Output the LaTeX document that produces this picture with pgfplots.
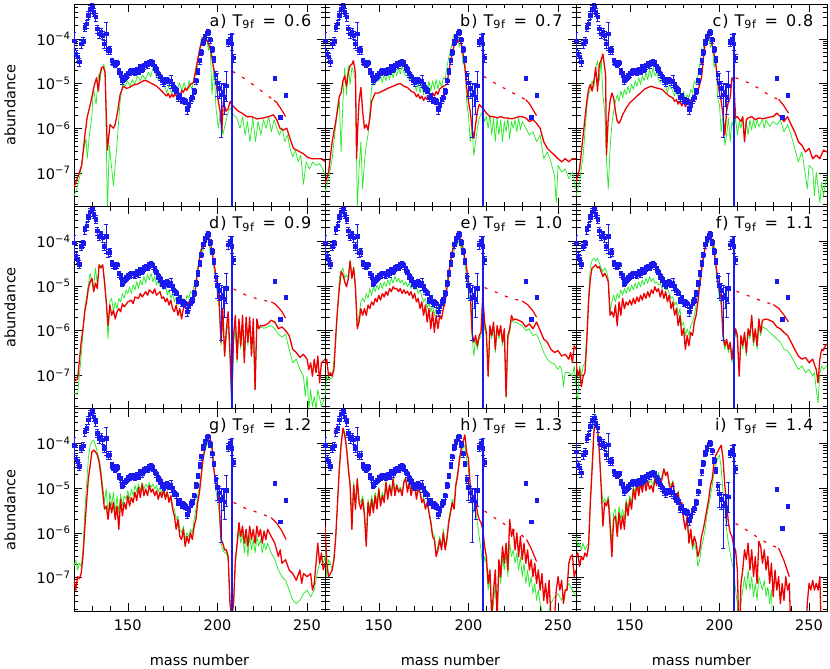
\documentclass[border=0pt]{standalone}
\usepackage{fontspec}
\setmainfont{DejaVu Sans}
\newfontfamily\lblfont{DejaVu Sans}[LetterSpace=6]
\usepackage{pgfplots}
\usepackage{pgfplotstable}
\pgfplotsset{compat=1.18}
\definecolor{rd}{RGB}{238,0,0}
\definecolor{gr}{RGB}{40,235,40}
\definecolor{bl}{RGB}{25,25,240}

% solar r-process abundances: A, log10(abundance), relative errors (+,-)
\pgfplotstableread[row sep=\\]{A L ep em\\
120 -4.04 0.5 0.35\\121 -4.34 0.2 0.2\\122 -4.40 0.2 0.2\\123 -4.51 0.2 0.2\\124 -4.11 0.2 0.2\\125 -4.05 0.2 0.2\\
126 -3.74 0.2 0.2\\127 -3.66 0.2 0.2\\128 -3.47 0.2 0.2\\129 -3.34 0.2 0.2\\130 -3.28 0.2 0.2\\131 -3.40 0.2 0.2\\
132 -3.51 0.2 0.2\\133 -3.77 0.2 0.2\\134 -3.89 0.2 0.2\\135 -3.85 0.2 0.2\\136 -3.92 0.2 0.2\\137 -4.11 0.2 0.2\\
138 -3.89 0.82 0.58\\139 -4.26 0.2 0.2\\140 -4.25 0.2 0.2\\141 -4.49 0.15 0.15\\142 -4.53 0.15 0.15\\143 -4.57 0.15 0.15\\
144 -4.53 0.15 0.15\\145 -4.73 0.15 0.15\\146 -4.79 0.15 0.15\\147 -4.94 0.15 0.15\\148 -4.88 0.15 0.15\\149 -4.83 0.15 0.15\\
150 -4.78 0.15 0.15\\151 -4.75 0.15 0.15\\152 -4.73 0.15 0.15\\153 -4.73 0.15 0.15\\154 -4.75 0.15 0.15\\155 -4.70 0.15 0.15\\
156 -4.73 0.15 0.15\\157 -4.64 0.15 0.15\\158 -4.68 0.15 0.15\\159 -4.60 0.15 0.15\\160 -4.57 0.15 0.15\\161 -4.58 0.15 0.15\\
162 -4.53 0.15 0.15\\163 -4.51 0.15 0.15\\164 -4.55 0.15 0.15\\165 -4.63 0.15 0.15\\166 -4.68 0.15 0.15\\167 -4.78 0.15 0.15\\
168 -4.85 0.15 0.15\\169 -4.94 0.15 0.15\\170 -4.98 0.15 0.15\\171 -4.93 0.15 0.15\\172 -4.91 0.15 0.15\\173 -4.96 0.15 0.15\\
174 -4.94 0.3 0.3\\175 -5.03 0.15 0.15\\176 -5.11 0.15 0.15\\177 -5.15 0.15 0.15\\178 -5.32 0.15 0.15\\179 -5.28 0.15 0.15\\
180 -5.38 0.15 0.15\\181 -5.36 0.15 0.15\\182 -5.40 0.15 0.15\\183 -5.58 0.2 0.2\\184 -5.47 0.15 0.15\\185 -5.36 0.15 0.15\\
186 -5.32 0.15 0.15\\187 -5.17 0.15 0.15\\188 -4.94 0.15 0.15\\189 -4.72 0.15 0.15\\190 -4.49 0.15 0.15\\191 -4.30 0.15 0.15\\
192 -4.08 0.15 0.15\\193 -3.96 0.15 0.15\\194 -3.89 0.15 0.15\\195 -3.85 0.15 0.15\\196 -4.02 0.15 0.15\\197 -4.23 0.15 0.15\\
198 -4.45 0.15 0.15\\199 -4.80 0.2 0.2\\200 -4.98 0.6 0.5\\201 -5.10 0.4 0.4\\202 -5.25 0.8 0.89\\203 -5.20 0.5 0.5\\
204 -5.30 1.0 0.6\\205 -5.05 1.14 0.55\\206 -4.08 0.2 0.2\\207 -4.00 0.25 0.25\\208 -4.11 0.66 0.3\\209 -4.42 0.2 0.2\\
232 -4.89 0.1 0.1\\235 -5.75 0.1 0.1\\238 -5.26 0.1 0.1\\
}\tabBl
% Pb-208 point with its full error bar
\pgfplotstableread[row sep=\\]{A L ep em\\ 208 -4.11 0.66 0.99995\\}\tabPb

% ---------- panel a ----------
\pgfplotstableread[row sep=\\]{A L\\
120 -7.32\\122.4 -7.06\\124.3 -6.83\\126.1 -6.15\\127.4 -5.74\\128.6 -5.55\\129.9 -5.32\\131.2 -5.06\\132.6 -4.87\\133.6 -5.17\\
134.5 -4.79\\135.4 -4.64\\136.4 -4.63\\137.3 -4.75\\138.6 -6.49\\140.1 -5.92\\142 -6.0\\142.9 -5.92\\144.2 -5.66\\145.7 -5.25\\
147.5 -5.06\\149.4 -5.11\\151.3 -5.08\\153.2 -5.03\\155 -5.02\\156.9 -4.98\\158.7 -4.94\\160.6 -4.94\\162.4 -4.98\\164.3 -5.02\\
166.1 -5.06\\168 -5.13\\169.9 -5.21\\171.7 -5.28\\172.6 -5.22\\173.6 -5.32\\174.5 -5.24\\175.4 -5.30\\176.4 -5.22\\177.3 -5.30\\
178.2 -5.20\\179.2 -5.27\\180.1 -5.15\\181 -5.20\\182 -5.10\\182.9 -5.15\\184.8 -5.02\\186.6 -4.98\\188.5 -4.57\\190 -4.26\\
191.3 -4.04\\192.6 -3.92\\193.7 -4.0\\195 -4.11\\196.3 -4.26\\197.8 -4.64\\199.2 -4.94\\200.5 -5.40\\201.5 -5.62\\202.4 -6.08\\
203.3 -5.40\\204.8 -5.62\\206.1 -5.55\\207.1 -5.40\\208 -5.47\\209.8 -5.55\\211.7 -5.62\\213.6 -5.66\\216.4 -5.74\\219.1 -5.74\\
222 -5.79\\225.7 -5.77\\228.4 -5.74\\231.2 -5.70\\233.1 -5.81\\234.9 -6.0\\236.8 -6.04\\238.7 -6.0\\240.5 -6.23\\242.4 -6.45\\
244.3 -6.49\\246.1 -6.53\\248 -6.57\\249.9 -6.64\\252.6 -6.68\\255.4 -6.68\\258.2 -6.68\\260 -6.75\\
}\tabRa
\pgfplotstableread[row sep=\\]{A L\\
120 -7.51\\121.5 -7.36\\123.3 -7.06\\125.2 -6.53\\126.7 -6.23\\127.4 -6.68\\128.6 -6.15\\129.9 -5.77\\130.8 -5.09\\132.3 -5.47\\
133.8 -4.79\\134.5 -4.94\\135.4 -4.68\\136.7 -4.57\\137.5 -4.75\\138.6 -7.9\\139.7 -6.38\\142 -7.28\\143.8 -6.45\\145.7 -5.40\\
147.2 -4.98\\148.5 -5.06\\149.8 -4.94\\151.3 -5.06\\152.5 -4.91\\153.9 -5.02\\155.3 -4.83\\156.9 -4.94\\158.3 -4.81\\159.8 -4.91\\
161.5 -4.75\\162.8 -4.85\\164.3 -4.60\\165.8 -4.83\\167.2 -4.91\\168.7 -4.94\\170.2 -5.02\\171.7 -5.21\\173.2 -5.02\\174.5 -5.25\\
175.8 -4.98\\177.3 -5.21\\178.8 -4.98\\180.1 -5.17\\181.4 -4.98\\182.9 -5.17\\184.2 -4.94\\185.7 -5.13\\187 -4.87\\188.5 -4.72\\
190 -4.23\\191.3 -3.96\\192.6 -4.08\\193.7 -3.92\\195 -4.26\\195.9 -4.11\\197 -5.25\\198.1 -4.64\\199.2 -5.55\\200.5 -6.0\\
201.8 -5.62\\203 -6.15\\204.3 -5.92\\206.1 -5.62\\207.4 -5.55\\208.9 -5.70\\210.8 -5.77\\212.6 -6.0\\214.1 -5.74\\215.4 -6.15\\
216.7 -5.85\\218.2 -6.30\\219.7 -5.77\\221.2 -6.30\\222.7 -5.85\\224.2 -6.15\\225.7 -5.81\\227.1 -6.0\\228.6 -5.74\\230.1 -6.08\\
231.6 -5.81\\233.1 -6.0\\234.6 -6.15\\236.1 -6.0\\237.6 -6.30\\239.1 -6.15\\240.5 -6.45\\242 -6.64\\243.5 -6.49\\245 -6.75\\
246.5 -6.60\\248 -7.25\\249.5 -6.75\\251.3 -6.91\\253.2 -6.75\\255 -6.83\\256.9 -6.79\\258.8 -6.91\\260 -7.06\\
}\tabGa

% ---------- panel b ----------
\pgfplotstableread[row sep=\\]{A L\\
120 -7.25\\122 -6.98\\124 -6.30\\126 -5.85\\128 -5.28\\129 -5.21\\130 -4.94\\131 -4.83\\132 -5.06\\133 -4.75\\134 -4.60\\
135 -4.57\\135.8 -4.49\\136.5 -4.64\\137 -4.79\\137.6 -6.68\\138.5 -5.77\\139 -5.40\\140 -5.09\\141 -5.62\\142 -6.0\\143 -5.92\\
144 -6.04\\145 -5.77\\146 -5.40\\148 -5.21\\150 -5.21\\152 -5.17\\154 -5.13\\156 -5.09\\158 -5.06\\160 -5.02\\162 -5.0\\
164 -5.06\\166 -5.09\\168 -5.17\\170 -5.21\\171 -5.30\\172 -5.24\\173 -5.34\\174 -5.28\\175 -5.38\\176 -5.30\\177 -5.36\\
178 -5.26\\179 -5.32\\180 -5.21\\181 -5.28\\182 -5.18\\183 -5.24\\184 -5.12\\186 -5.06\\188 -5.02\\190 -4.49\\192 -4.15\\
193 -4.04\\194 -4.08\\195 -4.0\\196 -4.11\\197 -4.34\\198 -4.64\\199 -5.09\\200 -5.40\\201 -5.62\\202 -6.0\\203 -6.23\\
204 -5.92\\205 -5.62\\206 -5.47\\208 -5.55\\210 -5.66\\212 -5.74\\214 -5.74\\216 -5.77\\218 -5.74\\220 -5.77\\222 -5.77\\
224 -5.79\\226 -5.77\\228 -5.74\\230 -5.74\\232 -5.77\\234 -5.85\\236 -5.81\\238 -5.89\\240 -6.0\\242 -6.30\\244 -6.45\\
246 -6.53\\248 -6.60\\250 -6.68\\252 -6.75\\254 -6.68\\256 -6.75\\258 -6.68\\260 -6.68\\
}\tabRb
\pgfplotstableread[row sep=\\]{A L\\
120 -7.43\\122 -7.13\\124 -6.68\\126 -5.92\\127 -5.62\\128 -5.40\\129 -6.53\\130 -5.40\\131 -4.64\\132 -5.25\\133 -4.60\\
134 -5.02\\135 -4.64\\136 -4.75\\137 -4.94\\138 -7.77\\139 -6.91\\140 -6.30\\141 -7.36\\142 -6.75\\143 -6.38\\144 -6.15\\
145 -5.62\\146 -5.09\\147 -4.94\\148 -5.02\\149 -4.87\\150 -4.94\\151 -4.83\\152 -4.98\\153 -4.79\\154 -4.94\\155 -4.75\\
156 -4.91\\157 -4.72\\158 -4.87\\159 -4.68\\160 -4.83\\161 -4.64\\162 -4.79\\163 -4.60\\164 -4.75\\165 -4.83\\166 -4.79\\
167 -4.94\\168 -4.87\\170 -5.02\\171 -5.17\\172 -4.98\\173 -5.21\\174 -5.02\\175 -5.25\\176 -4.98\\177 -5.17\\178 -4.94\\
179 -5.17\\180 -4.94\\181 -5.13\\182 -4.91\\183 -5.13\\184 -4.94\\185 -5.09\\186 -4.87\\187 -4.91\\188 -4.64\\189 -4.42\\
190 -4.26\\191 -4.08\\192 -3.89\\193 -4.11\\194 -3.96\\195 -4.19\\196 -4.04\\197 -4.57\\198 -4.42\\199 -5.40\\200 -5.70\\
201 -6.30\\202 -6.0\\203 -6.60\\204 -6.30\\205 -6.0\\206 -5.77\\207 -5.70\\208 -5.62\\209 -5.85\\210 -5.74\\211 -6.0\\
212 -5.70\\213 -6.15\\214 -5.77\\215 -6.30\\216 -5.77\\217 -6.15\\218 -5.81\\219 -6.30\\220 -5.85\\221 -6.08\\222 -5.77\\
223 -6.23\\224 -5.85\\225 -6.0\\226 -5.81\\227 -6.08\\228 -5.77\\229 -6.04\\230 -5.85\\232 -6.0\\234 -6.15\\236 -6.08\\
238 -6.30\\240 -6.15\\242 -6.68\\244 -6.53\\246 -6.75\\248 -7.06\\249 -7.66\\250 -6.83\\252 -6.98\\254 -6.91\\256 -7.13\\
258 -6.98\\260 -7.36\\
}\tabGb

% ---------- panel c ----------
\pgfplotstableread[row sep=\\]{A L\\
120 -7.21\\122 -6.91\\124 -6.15\\126 -5.40\\127 -5.13\\128 -5.02\\129 -5.17\\130 -4.94\\131 -4.64\\132 -5.17\\133 -4.57\\
134 -4.49\\135 -4.34\\136 -4.64\\136.5 -4.80\\137 -6.60\\138 -5.77\\139 -5.40\\140 -5.21\\141 -5.32\\142 -5.62\\143 -5.85\\
144 -5.89\\145 -5.81\\146 -5.70\\148 -5.55\\150 -5.43\\152 -5.36\\154 -5.28\\156 -5.21\\158 -5.13\\160 -5.09\\162 -5.06\\
164 -5.09\\166 -5.11\\168 -5.13\\170 -5.21\\172 -5.28\\174 -5.32\\175 -5.40\\176 -5.36\\177 -5.46\\178 -5.40\\179 -5.50\\
180 -5.40\\181 -5.52\\182 -5.44\\183 -5.48\\184 -5.38\\185 -5.30\\186 -5.25\\188 -5.17\\190 -4.87\\191 -4.45\\192 -4.11\\
193 -4.0\\194 -3.92\\195 -4.0\\196 -4.15\\197 -4.34\\198 -4.57\\199 -4.94\\200 -5.21\\201 -5.40\\202 -5.70\\203 -6.15\\
204 -5.62\\205 -5.40\\206 -5.32\\207 -4.87\\208 -4.94\\209 -5.77\\210 -5.74\\212 -5.85\\213 -5.74\\214 -6.30\\215 -5.81\\
216 -5.77\\218 -5.74\\220 -5.81\\222 -5.77\\224 -5.79\\226 -5.77\\228 -5.75\\230 -5.74\\232 -5.66\\234 -5.74\\236 -5.85\\
238 -5.74\\240 -5.92\\242 -6.08\\244 -6.30\\246 -6.38\\248 -6.53\\250 -6.45\\252 -6.68\\254 -6.60\\256 -6.68\\258 -6.49\\
260 -6.53\\
}\tabRc
\pgfplotstableread[row sep=\\]{A L\\
120 -7.51\\122 -7.21\\124 -6.60\\126 -5.55\\127 -5.25\\128 -5.13\\129 -4.94\\130 -5.09\\131 -4.64\\132 -4.49\\133 -4.94\\
134 -4.42\\135 -5.25\\136 -5.62\\137 -6.68\\138 -7.36\\139 -6.45\\140 -5.92\\141 -5.62\\142 -5.40\\143 -5.25\\144 -5.40\\
145 -5.17\\146 -5.32\\147 -5.13\\148 -5.25\\149 -5.06\\150 -5.21\\151 -5.02\\152 -5.13\\153 -4.94\\154 -5.06\\155 -4.87\\
156 -5.02\\157 -4.83\\158 -4.94\\159 -4.75\\160 -4.91\\161 -4.68\\162 -4.87\\163 -4.64\\164 -4.83\\165 -4.75\\166 -4.91\\
167 -4.98\\168 -4.87\\170 -5.06\\171 -5.21\\172 -5.02\\174 -5.17\\175 -5.28\\176 -5.09\\177 -5.32\\178 -5.13\\179 -5.36\\
180 -5.17\\181 -5.40\\182 -5.25\\183 -5.32\\184 -5.13\\185 -5.21\\186 -4.94\\187 -5.02\\188 -4.83\\189 -4.57\\190 -4.34\\
191 -4.19\\192 -4.0\\193 -4.11\\194 -3.96\\195 -4.19\\196 -4.11\\197 -4.64\\198 -4.49\\199 -5.32\\200 -5.47\\201 -6.08\\
202 -5.70\\203 -6.38\\204 -6.15\\205 -5.77\\206 -6.30\\207 -5.85\\208 -6.0\\209 -5.77\\210 -6.15\\211 -5.85\\212 -6.0\\
213 -5.77\\214 -6.30\\215 -5.85\\216 -6.15\\217 -5.81\\218 -6.04\\219 -5.81\\220 -6.0\\221 -5.81\\222 -5.96\\224 -5.81\\
225 -6.0\\226 -5.81\\228 -5.96\\230 -5.85\\232 -5.92\\234 -5.81\\236 -6.08\\238 -5.92\\240 -6.15\\242 -6.45\\244 -6.75\\
246 -6.53\\248 -7.06\\249 -7.36\\250 -6.83\\252 -6.91\\253 -7.51\\254 -6.98\\256 -7.66\\257 -7.21\\258 -7.51\\260 -7.06\\
}\tabGc

% ---------- panel d ----------
\pgfplotstableread[row sep=\\]{A L\\
120 -7.13\\122 -7.09\\124 -6.26\\125 -5.96\\126 -5.58\\127 -5.36\\128 -5.06\\129 -4.91\\130 -4.83\\131 -5.13\\132 -4.94\\
133 -5.06\\134 -4.53\\135 -4.60\\136 -4.53\\137 -4.91\\138 -5.36\\139 -5.89\\140 -5.43\\141 -5.66\\142 -5.55\\143 -5.74\\
144 -5.58\\145 -5.51\\146 -5.58\\147 -5.40\\148 -5.47\\150 -5.36\\152 -5.32\\153 -5.40\\154 -5.25\\156 -5.28\\157 -5.17\\
158 -5.25\\160 -5.13\\161 -5.21\\162 -5.09\\164 -5.17\\165 -5.07\\166 -5.21\\168 -5.13\\169 -5.28\\170 -5.25\\171 -5.36\\
172 -5.28\\173 -5.43\\174 -5.32\\175 -5.51\\176 -5.58\\177 -5.43\\178 -5.66\\179 -5.51\\180 -5.74\\181 -5.51\\182 -5.43\\
183 -5.55\\184 -5.36\\185 -5.43\\186 -5.25\\187 -5.28\\188 -4.98\\189 -4.68\\190 -4.38\\191 -4.19\\192 -4.08\\193 -3.96\\
194 -3.85\\195 -3.89\\196 -4.04\\197 -4.23\\198 -4.49\\199 -4.72\\200 -5.06\\201 -5.36\\202 -6.26\\203 -5.51\\204 -6.57\\
205 -5.96\\206 -5.58\\207 -6.49\\208 -7.62\\209 -6.11\\210 -5.66\\211 -6.64\\212 -5.74\\213 -6.34\\214 -5.66\\215 -6.72\\
216 -5.70\\217 -6.26\\218 -5.70\\219 -6.57\\220 -5.74\\221 -7.32\\222 -5.74\\223 -5.96\\224 -5.89\\226 -5.89\\228 -5.85\\
230 -5.77\\232 -5.81\\234 -5.96\\236 -5.92\\238 -6.0\\240 -6.11\\242 -6.42\\244 -6.49\\246 -6.60\\248 -6.53\\250 -6.64\\
251 -6.87\\252 -6.72\\253 -7.02\\254 -6.64\\255 -6.94\\256 -6.57\\257 -7.17\\258 -6.72\\260 -6.64\\
}\tabRd
\pgfplotstableread[row sep=\\]{A L\\
120 -7.40\\122 -7.43\\124 -6.57\\126 -5.51\\128 -4.98\\129 -4.72\\130 -4.91\\131 -5.02\\132 -4.60\\133 -4.98\\134 -4.53\\
135 -4.57\\136 -4.53\\137 -4.83\\138 -5.36\\139 -6.19\\140 -5.36\\141 -5.28\\142 -5.58\\143 -5.36\\144 -5.51\\145 -5.28\\
146 -5.36\\147 -5.17\\148 -5.28\\149 -5.09\\150 -5.17\\151 -5.02\\152 -5.17\\153 -4.98\\154 -5.09\\155 -4.91\\156 -5.06\\
157 -4.87\\158 -4.98\\159 -4.79\\160 -4.94\\161 -4.75\\162 -4.87\\163 -4.72\\164 -4.91\\165 -4.79\\166 -4.98\\167 -4.87\\
168 -5.02\\169 -4.91\\170 -5.09\\171 -4.98\\172 -5.21\\173 -5.09\\174 -5.28\\175 -5.17\\176 -5.36\\177 -5.25\\178 -5.43\\
179 -5.32\\180 -5.43\\181 -5.28\\182 -5.40\\183 -5.21\\184 -5.28\\185 -5.13\\186 -5.17\\187 -4.98\\188 -4.87\\189 -4.60\\
190 -4.38\\191 -4.15\\192 -4.23\\193 -3.92\\194 -4.0\\195 -3.85\\196 -4.30\\197 -4.15\\198 -4.60\\199 -4.83\\200 -5.21\\
201 -5.51\\202 -6.34\\203 -5.74\\204 -6.57\\205 -6.11\\206 -5.81\\207 -6.64\\208 -7.70\\209 -6.26\\210 -5.96\\211 -6.72\\
212 -5.89\\213 -6.42\\214 -5.81\\215 -6.72\\216 -5.81\\217 -6.34\\218 -5.81\\219 -6.57\\220 -5.85\\221 -7.32\\222 -5.85\\
223 -5.96\\224 -5.92\\226 -5.95\\228 -5.92\\230 -5.89\\232 -5.96\\234 -6.08\\236 -6.15\\238 -6.08\\240 -6.42\\242 -6.72\\
244 -6.64\\246 -6.87\\248 -7.02\\249 -7.47\\250 -7.02\\251 -7.77\\252 -7.32\\253 -7.70\\254 -7.47\\255 -7.77\\256 -7.32\\
258 -7.70\\260 -7.47\\
}\tabGd

% ---------- panel e ----------
\pgfplotstableread[row sep=\\]{A L\\
120 -6.79\\121 -6.64\\122 -7.02\\123 -6.94\\124 -7.02\\125 -6.87\\126 -6.11\\127 -5.51\\128 -5.06\\129 -4.68\\130 -4.75\\
131 -4.91\\132 -5.02\\133 -4.83\\134 -4.45\\135 -4.83\\136 -4.60\\137 -5.06\\138 -5.96\\139 -5.81\\140 -5.51\\141 -5.66\\
142 -5.51\\143 -5.66\\144 -5.43\\145 -5.51\\146 -5.36\\147 -5.43\\148 -5.28\\149 -5.36\\150 -5.21\\151 -5.32\\152 -5.17\\
153 -5.25\\154 -5.13\\155 -5.21\\156 -5.06\\157 -5.13\\158 -5.02\\159 -5.07\\160 -5.06\\161 -5.13\\162 -5.06\\163 -5.17\\
164 -5.09\\165 -5.17\\166 -5.12\\167 -5.21\\168 -5.13\\169 -5.28\\170 -5.17\\171 -5.36\\172 -5.28\\173 -5.51\\174 -5.36\\
175 -5.66\\176 -5.43\\177 -5.81\\178 -5.51\\179 -5.96\\180 -5.58\\181 -6.04\\182 -5.66\\183 -5.96\\184 -5.66\\185 -5.74\\
186 -5.51\\187 -5.36\\188 -5.06\\189 -4.75\\190 -4.45\\191 -4.23\\192 -4.11\\193 -4.0\\194 -3.92\\195 -3.89\\196 -4.04\\
197 -4.23\\198 -4.38\\199 -4.60\\200 -4.91\\201 -5.06\\202 -6.04\\203 -6.26\\204 -6.11\\205 -6.34\\206 -6.11\\207 -6.04\\
208 -5.21\\209 -5.81\\210 -6.04\\211 -7.02\\212 -5.89\\213 -6.11\\214 -5.81\\215 -6.42\\216 -5.89\\217 -6.11\\218 -5.89\\
219 -6.26\\220 -5.96\\221 -7.47\\222 -6.11\\223 -5.96\\224 -5.66\\225 -5.77\\226 -5.74\\228 -5.77\\230 -5.81\\232 -5.92\\
234 -5.85\\236 -5.96\\238 -5.81\\240 -6.0\\242 -6.19\\244 -6.26\\246 -6.42\\248 -6.49\\250 -6.45\\252 -6.57\\254 -6.53\\
256 -6.64\\257 -6.49\\258 -6.72\\259 -6.34\\260 -6.42\\
}\tabRe
\pgfplotstableread[row sep=\\]{A L\\
120 -7.47\\121 -7.02\\122 -7.09\\124 -7.06\\126 -6.26\\127 -5.58\\128 -4.83\\129 -4.68\\130 -4.60\\131 -4.83\\132 -4.75\\
133 -4.83\\134 -4.42\\135 -4.75\\136 -4.57\\137 -4.98\\138 -5.89\\139 -5.66\\140 -5.36\\141 -5.28\\142 -5.36\\143 -5.17\\
144 -5.28\\145 -5.06\\146 -5.21\\147 -5.02\\148 -5.13\\149 -4.98\\150 -5.09\\151 -4.94\\152 -5.06\\153 -4.91\\154 -5.02\\
155 -4.87\\156 -4.98\\157 -4.83\\158 -4.94\\159 -4.79\\160 -4.91\\161 -4.83\\162 -4.94\\163 -4.87\\164 -4.98\\165 -4.91\\
166 -5.02\\167 -4.94\\168 -5.06\\169 -4.98\\170 -5.09\\171 -5.02\\172 -5.17\\173 -5.09\\174 -5.25\\175 -5.36\\176 -5.28\\
177 -5.51\\178 -5.36\\179 -5.58\\180 -5.43\\181 -5.66\\182 -5.51\\183 -5.66\\184 -5.43\\185 -5.51\\186 -5.28\\187 -5.17\\
188 -4.91\\189 -4.64\\190 -4.49\\191 -4.34\\192 -4.23\\193 -4.0\\194 -4.08\\195 -3.92\\196 -4.23\\197 -4.08\\198 -4.53\\
199 -4.75\\200 -5.13\\201 -5.36\\202 -6.11\\203 -6.57\\204 -6.19\\205 -6.42\\206 -6.19\\207 -6.11\\208 -5.36\\209 -5.96\\
210 -6.11\\211 -7.02\\212 -5.96\\213 -6.19\\214 -5.89\\215 -6.49\\216 -5.96\\217 -6.19\\218 -5.96\\219 -6.34\\220 -6.04\\
221 -7.51\\222 -6.19\\223 -6.04\\224 -5.77\\225 -5.81\\226 -5.81\\228 -5.85\\230 -5.89\\232 -6.0\\234 -5.96\\236 -6.11\\
238 -6.08\\240 -6.26\\242 -6.49\\244 -6.64\\246 -6.72\\248 -6.75\\250 -6.87\\251 -6.79\\252 -6.87\\253 -7.25\\254 -6.94\\
256 -6.94\\258 -7.02\\259 -6.79\\260 -7.25\\
}\tabGe

% ---------- panel f ----------
\pgfplotstableread[row sep=\\]{A L\\
120 -6.72\\121 -7.02\\122 -6.87\\123 -7.25\\124 -7.02\\125 -6.94\\126 -6.26\\127 -5.36\\128 -4.83\\129 -4.60\\130 -4.57\\
131 -4.53\\132 -4.60\\133 -4.57\\134 -4.68\\135 -4.79\\136 -4.72\\137 -4.79\\138 -4.91\\139 -5.66\\140 -5.58\\141 -5.70\\
142 -5.43\\143 -5.89\\144 -5.36\\145 -5.66\\146 -5.28\\147 -5.51\\148 -5.36\\149 -5.43\\150 -5.32\\151 -5.43\\152 -5.28\\
153 -5.40\\154 -5.25\\155 -5.36\\156 -5.21\\157 -5.32\\158 -5.17\\159 -5.28\\160 -5.13\\161 -5.25\\162 -5.09\\163 -5.17\\
164 -5.02\\165 -5.13\\166 -5.06\\167 -5.25\\168 -5.09\\169 -5.28\\170 -5.13\\171 -5.36\\172 -5.21\\173 -5.51\\174 -5.36\\
175 -5.66\\176 -5.51\\177 -5.89\\178 -5.66\\179 -6.11\\180 -5.96\\181 -6.42\\182 -6.11\\183 -6.34\\184 -6.04\\185 -6.11\\
186 -5.81\\187 -5.66\\188 -5.36\\189 -4.98\\190 -4.68\\191 -4.38\\192 -4.15\\193 -4.0\\194 -3.92\\195 -3.85\\196 -4.0\\
197 -4.23\\198 -4.53\\199 -4.83\\200 -5.13\\201 -5.28\\202 -6.11\\203 -6.34\\204 -6.19\\205 -6.42\\206 -6.26\\207 -6.64\\
208 -6.26\\209 -5.96\\210 -6.11\\211 -7.02\\212 -6.11\\213 -6.34\\214 -6.04\\215 -6.49\\216 -5.96\\217 -6.11\\218 -5.66\\
219 -6.26\\220 -5.96\\221 -6.34\\222 -5.74\\223 -6.04\\224 -5.77\\226 -5.74\\228 -5.77\\230 -5.81\\232 -5.92\\234 -5.96\\
236 -6.04\\238 -6.11\\240 -6.26\\242 -6.42\\244 -6.57\\246 -6.64\\248 -6.60\\250 -6.72\\252 -6.64\\254 -6.87\\255 -7.17\\
256 -6.64\\257 -6.42\\258 -6.45\\259 -6.34\\260 -6.30\\
}\tabRf
\pgfplotstableread[row sep=\\]{A L\\
120 -7.40\\121 -7.55\\122 -6.79\\123 -7.02\\124 -6.79\\125 -6.72\\126 -6.11\\127 -5.21\\128 -4.60\\129 -4.42\\130 -4.38\\
131 -4.45\\132 -4.38\\133 -4.49\\134 -4.60\\135 -4.68\\136 -4.60\\137 -4.68\\138 -4.83\\139 -5.58\\140 -5.36\\141 -5.21\\
142 -5.36\\143 -5.17\\144 -5.28\\145 -5.09\\146 -5.21\\147 -5.06\\148 -5.17\\149 -5.02\\150 -5.13\\151 -4.98\\152 -5.09\\
153 -4.94\\154 -5.06\\155 -4.91\\156 -5.02\\157 -4.87\\158 -4.98\\159 -4.83\\160 -4.94\\161 -4.79\\162 -4.91\\163 -4.83\\
164 -4.94\\165 -4.91\\166 -4.98\\167 -4.94\\168 -5.06\\169 -4.98\\170 -5.09\\171 -5.06\\172 -5.17\\173 -5.28\\174 -5.25\\
175 -5.43\\176 -5.36\\177 -5.66\\178 -5.51\\179 -5.89\\180 -5.81\\181 -6.11\\182 -5.96\\183 -6.11\\184 -5.89\\185 -5.81\\
186 -5.66\\187 -5.43\\188 -5.13\\189 -4.83\\190 -4.60\\191 -4.34\\192 -4.15\\193 -3.96\\194 -4.04\\195 -3.85\\196 -4.15\\
197 -4.04\\198 -4.60\\199 -4.98\\200 -5.28\\201 -5.43\\202 -6.19\\203 -6.42\\204 -6.26\\205 -6.49\\206 -6.34\\207 -6.72\\
208 -6.34\\209 -6.04\\210 -6.19\\211 -6.94\\212 -6.19\\213 -6.42\\214 -6.11\\215 -6.57\\216 -6.04\\217 -6.19\\218 -5.74\\
219 -6.34\\220 -6.04\\221 -6.42\\222 -5.89\\223 -6.11\\224 -5.92\\226 -5.96\\228 -6.04\\230 -6.11\\232 -6.19\\234 -6.26\\
236 -6.42\\238 -6.45\\240 -6.57\\242 -6.72\\244 -6.87\\246 -6.79\\248 -6.94\\250 -6.87\\252 -7.02\\253 -6.94\\254 -7.32\\
255 -7.62\\256 -6.94\\257 -6.79\\258 -6.87\\260 -6.79\\
}\tabGf

% ---------- panel g ----------
\pgfplotstableread[row sep=\\]{A L\\
120 -7.06\\121 -7.28\\122 -6.98\\123 -7.02\\124 -6.91\\125 -6.53\\126 -5.92\\127 -5.32\\128 -4.79\\129 -4.49\\130 -4.19\\
131 -4.15\\132 -4.19\\133 -4.26\\134 -4.42\\135 -4.72\\136 -5.09\\137 -5.47\\138 -5.40\\139 -5.70\\140 -5.32\\141 -5.55\\
142 -5.32\\143 -5.70\\144 -5.40\\145 -5.92\\146 -5.25\\147 -5.62\\148 -5.32\\149 -5.47\\150 -5.17\\151 -5.40\\152 -5.21\\
153 -5.32\\154 -5.09\\155 -5.28\\156 -4.98\\157 -5.21\\158 -4.91\\159 -5.17\\160 -5.02\\161 -5.17\\162 -4.94\\163 -5.09\\
164 -5.02\\165 -5.17\\166 -5.06\\167 -5.25\\168 -5.09\\169 -5.21\\170 -5.02\\171 -5.25\\172 -5.09\\173 -5.32\\174 -5.17\\
175 -5.47\\176 -5.62\\177 -5.92\\178 -5.70\\179 -6.08\\180 -6.15\\181 -5.92\\182 -6.30\\183 -6.08\\184 -6.23\\185 -6.0\\
186 -6.15\\187 -5.85\\188 -5.70\\189 -5.32\\190 -5.09\\191 -4.72\\192 -4.34\\193 -4.11\\194 -3.96\\195 -3.81\\196 -3.89\\
197 -4.11\\198 -4.57\\199 -4.87\\200 -5.02\\201 -5.32\\202 -6.15\\203 -6.23\\204 -6.38\\205 -6.38\\206 -6.53\\207 -7.58\\
208 -7.9\\209 -7.58\\210 -6.60\\211 -6.23\\212 -5.77\\213 -6.08\\214 -5.85\\215 -6.23\\216 -5.92\\217 -6.30\\218 -5.85\\
219 -6.15\\220 -5.92\\221 -6.23\\222 -5.85\\223 -6.08\\224 -5.92\\225 -6.23\\226 -5.96\\227 -6.15\\228 -5.92\\230 -6.08\\
232 -6.23\\234 -6.53\\235 -6.38\\236 -6.68\\238 -6.60\\240 -6.83\\242 -6.91\\244 -7.06\\246 -6.83\\247 -7.13\\248 -6.91\\
250 -6.98\\252 -6.91\\253 -7.28\\254 -7.13\\256 -6.23\\257 -6.68\\258 -6.45\\259 -6.83\\260 -6.68\\
}\tabRg
\pgfplotstableread[row sep=\\]{A L\\
120 -6.75\\121 -6.60\\122 -6.83\\123 -6.68\\124 -6.75\\125 -6.38\\126 -5.55\\127 -4.94\\128 -4.34\\129 -4.04\\130 -3.96\\
131 -3.92\\132 -4.04\\133 -4.19\\134 -4.34\\135 -4.57\\136 -4.94\\137 -5.32\\138 -5.02\\139 -5.62\\140 -5.09\\141 -5.40\\
142 -5.09\\143 -5.55\\144 -5.17\\145 -5.55\\146 -5.13\\147 -5.40\\148 -5.17\\149 -5.25\\150 -5.06\\151 -5.25\\152 -5.02\\
153 -5.17\\154 -4.94\\155 -5.09\\156 -4.91\\157 -5.06\\158 -4.87\\159 -5.02\\160 -4.91\\161 -4.98\\162 -4.87\\163 -4.98\\
164 -4.91\\165 -5.02\\166 -4.94\\167 -5.09\\168 -4.98\\169 -5.13\\170 -5.02\\171 -5.17\\172 -5.06\\173 -5.25\\174 -5.17\\
175 -5.40\\176 -5.47\\177 -5.70\\178 -5.62\\179 -5.92\\180 -6.0\\181 -5.85\\182 -6.15\\183 -6.0\\184 -6.08\\185 -5.92\\
186 -6.0\\187 -5.70\\188 -5.47\\189 -5.17\\190 -4.94\\191 -4.64\\192 -4.34\\193 -4.19\\194 -4.04\\195 -3.96\\196 -4.11\\
197 -3.96\\198 -4.57\\199 -5.02\\200 -5.25\\201 -5.55\\202 -6.23\\203 -6.38\\204 -6.45\\205 -6.45\\206 -6.60\\207 -7.58\\
208 -7.9\\209 -7.58\\210 -6.68\\211 -6.30\\212 -5.92\\213 -6.23\\214 -6.0\\215 -6.45\\216 -6.08\\217 -6.53\\218 -6.08\\
219 -6.38\\220 -6.15\\221 -6.45\\222 -6.08\\223 -6.30\\224 -6.15\\225 -6.45\\226 -6.23\\227 -6.38\\228 -6.23\\230 -6.45\\
232 -6.60\\234 -6.83\\236 -6.98\\238 -7.06\\240 -7.28\\242 -7.51\\244 -7.58\\246 -7.51\\248 -7.36\\250 -7.28\\252 -7.43\\
254 -7.28\\256 -6.83\\258 -6.53\\259 -6.68\\260 -6.53\\
}\tabGg

% ---------- panel h ----------
\pgfplotstableread[row sep=\\]{A L\\
120 -5.85\\121 -6.68\\122 -6.98\\123 -6.91\\124 -6.83\\125 -6.60\\126 -6.08\\127 -5.32\\128 -4.57\\129 -4.04\\130 -3.66\\
131 -3.81\\132 -4.11\\133 -4.57\\134 -4.94\\135 -5.92\\136 -4.94\\137 -5.47\\138 -4.79\\139 -5.32\\140 -5.47\\141 -5.25\\
142 -5.62\\143 -6.30\\144 -5.32\\145 -5.62\\146 -5.25\\147 -5.55\\148 -5.17\\149 -5.47\\150 -5.02\\151 -5.40\\152 -5.17\\
153 -5.32\\154 -4.87\\155 -5.25\\156 -4.94\\157 -5.17\\158 -4.79\\159 -5.17\\160 -4.94\\161 -5.09\\162 -5.02\\163 -5.17\\
164 -4.87\\165 -4.79\\166 -5.09\\167 -4.87\\168 -5.17\\169 -4.98\\170 -4.91\\171 -5.25\\172 -5.02\\173 -5.09\\174 -5.32\\
175 -5.25\\176 -5.47\\177 -5.32\\178 -5.55\\179 -5.77\\180 -6.08\\181 -6.15\\182 -6.53\\183 -6.38\\184 -6.15\\185 -6.38\\
186 -6.0\\187 -6.38\\188 -6.15\\189 -5.77\\190 -5.55\\191 -5.32\\192 -5.47\\193 -4.94\\194 -4.72\\195 -4.34\\196 -4.11\\
197 -3.96\\198 -3.81\\199 -4.19\\200 -4.34\\201 -4.94\\202 -5.17\\203 -5.32\\204 -5.25\\205 -5.55\\206 -5.70\\207 -5.77\\
208 -5.92\\209 -6.30\\210 -6.53\\211 -7.13\\212 -6.83\\213 -7.9\\214 -7.28\\215 -6.83\\216 -7.9\\217 -6.60\\218 -6.98\\
219 -6.30\\220 -6.68\\221 -6.23\\222 -6.83\\223 -5.70\\224 -6.08\\225 -5.92\\226 -6.38\\227 -6.0\\228 -6.53\\229 -6.08\\
230 -6.60\\231 -6.23\\232 -6.68\\233 -6.38\\234 -6.83\\235 -6.60\\236 -6.98\\237 -6.68\\238 -7.13\\239 -6.83\\240 -7.28\\
241 -6.91\\242 -7.51\\243 -7.13\\244 -7.58\\245 -7.06\\246 -7.9\\248 -7.9\\249 -7.28\\250 -6.98\\251 -7.28\\252 -7.06\\
253 -7.58\\254 -7.28\\255 -7.28\\256 -6.68\\257 -6.53\\258 -6.49\\259 -6.98\\260 -6.83\\
}\tabRh
\pgfplotstableread[row sep=\\]{A L\\
120 -6.30\\121 -6.98\\122 -6.60\\123 -6.68\\124 -6.83\\125 -6.53\\126 -6.08\\127 -5.32\\128 -4.49\\129 -3.96\\130 -3.66\\
131 -3.74\\132 -4.04\\133 -4.49\\134 -4.87\\135 -5.62\\136 -4.87\\137 -5.32\\138 -4.79\\139 -5.25\\140 -5.32\\141 -5.17\\
142 -5.47\\143 -6.08\\144 -5.25\\145 -5.47\\146 -5.17\\147 -5.40\\148 -5.09\\149 -5.32\\150 -4.98\\151 -5.30\\152 -5.09\\
153 -5.22\\154 -4.83\\155 -5.15\\156 -4.91\\157 -5.10\\158 -4.75\\159 -5.08\\160 -4.91\\161 -5.02\\162 -4.98\\163 -5.08\\
164 -4.83\\165 -4.75\\166 -5.02\\167 -4.85\\168 -5.09\\169 -4.94\\170 -4.87\\171 -5.17\\172 -4.98\\173 -5.05\\174 -5.25\\
175 -5.20\\176 -5.43\\177 -5.28\\178 -5.51\\179 -5.70\\180 -6.0\\181 -6.08\\182 -6.45\\183 -6.30\\184 -6.08\\185 -6.30\\
186 -5.92\\187 -6.30\\188 -6.08\\189 -5.70\\190 -5.47\\191 -5.25\\192 -5.32\\193 -4.87\\194 -4.64\\195 -4.42\\196 -4.19\\
197 -4.11\\198 -4.04\\199 -4.34\\200 -4.57\\201 -5.17\\202 -5.32\\203 -5.55\\204 -5.47\\205 -5.77\\206 -6.08\\207 -6.38\\
208 -6.83\\209 -6.53\\210 -6.68\\211 -7.28\\212 -6.98\\213 -7.9\\214 -7.58\\215 -7.13\\216 -7.9\\217 -6.83\\218 -7.13\\
219 -6.53\\220 -6.83\\221 -6.45\\222 -6.98\\223 -6.23\\224 -6.53\\225 -6.38\\226 -6.68\\227 -6.45\\228 -6.83\\229 -6.53\\
230 -6.98\\231 -6.68\\232 -7.13\\233 -6.83\\234 -7.21\\235 -6.98\\236 -7.36\\237 -7.13\\238 -7.51\\239 -7.28\\240 -7.58\\
242 -7.9\\244 -7.9\\246 -7.58\\248 -7.43\\250 -7.36\\252 -7.51\\254 -7.28\\256 -7.13\\258 -7.28\\260 -7.43\\
}\tabGh

% ---------- panel i ----------
\pgfplotstableread[row sep=\\]{A L\\
120 -6.53\\121 -6.45\\122 -6.75\\123 -6.53\\124 -6.60\\125 -6.45\\126 -6.53\\127 -6.30\\128 -5.32\\129 -4.57\\130 -3.74\\
131 -3.51\\132 -3.66\\133 -4.19\\134 -4.94\\135 -5.85\\136 -5.32\\137 -5.40\\138 -5.25\\139 -5.85\\140 -6.53\\141 -5.70\\
142 -5.62\\143 -6.08\\144 -5.55\\145 -5.92\\146 -5.62\\147 -5.92\\148 -5.32\\149 -5.62\\150 -5.25\\151 -5.47\\152 -5.02\\
153 -5.25\\154 -4.87\\155 -5.17\\156 -4.87\\157 -5.09\\158 -4.79\\159 -5.06\\160 -4.83\\161 -5.02\\162 -4.94\\163 -5.09\\
164 -4.79\\165 -4.94\\166 -4.72\\167 -4.94\\168 -4.79\\169 -4.57\\170 -4.72\\171 -4.64\\172 -4.94\\173 -5.02\\174 -4.87\\
175 -5.17\\176 -5.32\\177 -5.09\\178 -5.47\\179 -5.32\\180 -5.70\\181 -5.92\\182 -5.62\\183 -6.23\\184 -5.92\\185 -6.30\\
186 -6.08\\187 -6.23\\188 -6.53\\189 -6.38\\190 -6.08\\191 -5.92\\192 -5.70\\193 -5.47\\194 -5.25\\195 -4.94\\196 -4.79\\
197 -4.42\\198 -4.26\\199 -4.19\\200 -4.11\\201 -4.04\\202 -4.34\\203 -4.94\\204 -5.32\\205 -5.77\\206 -6.0\\207 -6.08\\
208 -6.30\\209 -6.38\\210 -6.83\\211 -8.5\\212 -7.13\\213 -6.83\\214 -6.38\\215 -6.60\\216 -6.23\\217 -6.83\\218 -6.38\\
219 -6.98\\220 -6.53\\221 -7.13\\222 -6.19\\223 -6.30\\224 -6.68\\225 -6.38\\226 -6.83\\227 -6.53\\228 -7.13\\229 -6.68\\
230 -7.43\\231 -6.83\\232 -7.28\\233 -6.98\\234 -7.58\\235 -7.13\\236 -7.51\\237 -6.98\\238 -7.28\\239 -7.13\\240 -8.5\\
248 -8.5\\249 -7.58\\250 -7.13\\251 -7.28\\252 -7.06\\253 -7.28\\254 -7.13\\255 -7.28\\256 -6.98\\257 -8.5\\260 -8.5\\
}\tabRi
\pgfplotstableread[row sep=\\]{A L\\
120 -6.08\\121 -6.30\\122 -6.23\\123 -6.38\\124 -6.23\\125 -6.38\\126 -6.30\\127 -6.23\\128 -5.32\\129 -4.42\\130 -3.58\\
131 -3.36\\132 -3.58\\133 -4.11\\134 -4.87\\135 -5.32\\136 -5.25\\137 -5.32\\138 -5.17\\139 -5.62\\140 -6.23\\141 -5.55\\
142 -5.47\\143 -5.92\\144 -5.40\\145 -5.70\\146 -5.47\\147 -5.70\\148 -5.25\\149 -5.47\\150 -5.17\\151 -5.32\\152 -4.94\\
153 -5.13\\154 -4.83\\155 -5.06\\156 -4.79\\157 -4.98\\158 -4.75\\159 -4.94\\160 -4.72\\161 -4.87\\162 -4.83\\163 -4.94\\
164 -4.72\\165 -4.83\\166 -4.64\\167 -4.83\\168 -4.72\\169 -4.57\\170 -4.68\\171 -4.64\\172 -4.87\\173 -4.94\\174 -4.83\\
175 -5.09\\176 -5.25\\177 -5.06\\178 -5.40\\179 -5.32\\180 -5.62\\181 -5.92\\182 -5.70\\183 -6.23\\184 -6.0\\185 -6.38\\
186 -6.23\\187 -6.38\\188 -6.75\\189 -6.60\\190 -6.30\\191 -6.15\\192 -5.92\\193 -5.62\\194 -5.40\\195 -5.17\\196 -4.94\\
197 -4.64\\198 -4.49\\199 -4.34\\200 -4.26\\201 -4.57\\202 -5.09\\203 -5.47\\204 -5.92\\205 -6.23\\206 -6.45\\207 -6.68\\
208 -6.83\\209 -7.28\\210 -7.58\\211 -8.5\\212 -7.58\\213 -7.28\\214 -6.98\\215 -7.28\\216 -6.83\\217 -7.28\\218 -6.98\\
219 -7.43\\220 -7.13\\221 -7.51\\222 -6.98\\223 -7.13\\224 -7.28\\225 -7.06\\226 -7.43\\227 -7.21\\228 -7.58\\229 -7.28\\
230 -8.5\\260 -8.5\\
}\tabGi

\pgfplotsset{
  mygrid/.style={
    scale only axis, width=251pt, height=202.3pt, anchor=south west,
    xmin=120, xmax=260, ymin=1.8e-8, ymax=6e-4,
    xtick={150,200,250}, minor xtick={130,140,160,170,180,190,210,220,230,240},
    ytick={1e-7,1e-6,1e-5,1e-4},
    minor ytick={2e-8,3e-8,4e-8,5e-8,6e-8,7e-8,8e-8,9e-8,
      2e-7,3e-7,4e-7,5e-7,6e-7,7e-7,8e-7,9e-7,
      2e-6,3e-6,4e-6,5e-6,6e-6,7e-6,8e-6,9e-6,
      2e-5,3e-5,4e-5,5e-5,6e-5,7e-5,8e-5,9e-5,
      2e-4,3e-4,4e-4,5e-4},
    tick align=inside, major tick length=8pt, minor tick length=4.5pt,
    every tick/.style={black, line width=0.5pt},
    axis line style={black, line width=0.6pt},
    xticklabels={}, yticklabels={},
    tick label style={font=\fontsize{14.5}{17}\selectfont},
    xticklabel style={yshift=-5pt},
    label style={font=\lblfont\fontsize{15}{18}\selectfont},
    every axis y label/.style={at={(axis description cs:-0.255,0.5)},rotate=90,anchor=center},
    every axis x label/.style={at={(axis description cs:0.5,-0.242)},anchor=center},
  },
  myleft/.style={yticklabels={10\textsuperscript{−7},10\textsuperscript{−6},10\textsuperscript{−5},10\textsuperscript{−4}}, ylabel={abundance}},
  mybottom/.style={xticklabels={150,200,250}, xlabel={mass number}},
  gline/.style={gr, line width=0.75pt, line join=round, mark=none},
  rline/.style={rd, line width=1.3pt, line join=round, mark=none},
  dline/.style={rd, line width=1.2pt, dash pattern=on 3pt off 8pt, mark=none},
  sline/.style={rd, line width=1.2pt, mark=none},
  bpts/.style={bl, only marks, mark=square*, mark size=1.8pt, mark options={bl, solid},
    error bars/y dir=both, error bars/y explicit relative,
    error bars/error bar style={line width=0.55pt, bl},
    error bars/error mark options={rotate=90, mark size=2pt, line width=0.55pt, bl}},
  pbpt/.style={bl, only marks, mark=square*, mark size=1.8pt, mark options={bl, solid},
    error bars/y dir=both, error bars/y explicit relative,
    error bars/error bar style={line width=1.5pt, bl},
    error bars/error mark options={rotate=90, mark size=2pt, line width=0.8pt, bl}},
}
\tikzset{plbl/.style={anchor=base east, font=\lblfont\fontsize{16}{19}\selectfont}}

\begin{document}
\begin{tikzpicture}[font=\fontsize{14.5}{17}\selectfont]
\path[use as bounding box] (0pt,0pt) rectangle (830pt,669pt);

% ===== row 1 =====
\begin{axis}[ymode=log, mygrid, myleft, at={(74pt,462.7pt)}]
\addplot[gline] table[x=A,y expr={10^(\thisrow{L})}] {\tabGa};
\addplot[rline] table[x=A,y expr={10^(\thisrow{L})}] {\tabRa};
\addplot[dline] table[row sep=\\,x=A,y expr={10^(\thisrow{L})}] {A L\\208.5 -4.73\\216 -4.91\\222 -5.09\\228 -5.27\\231.5 -5.38\\};
\addplot[sline] table[row sep=\\,x=A,y expr={10^(\thisrow{L})}] {A L\\231.5 -5.38\\233 -5.42\\236 -5.60\\238 -5.74\\};
\addplot[pbpt] table[x=A,y expr={10^(\thisrow{L})},y error plus=ep,y error minus=em] {\tabPb};
\addplot[bpts] table[x=A,y expr={10^(\thisrow{L})},y error plus=ep,y error minus=em] {\tabBl};
\node[plbl] at (rel axis cs:0.96,0.89) {a)\ T\textsubscript{9f}\enspace=\enspace0.6};
\end{axis}

\begin{axis}[ymode=log, mygrid, at={(325pt,462.7pt)}]
\addplot[gline] table[x=A,y expr={10^(\thisrow{L})}] {\tabGb};
\addplot[rline] table[x=A,y expr={10^(\thisrow{L})}] {\tabRb};
\addplot[dline] table[row sep=\\,x=A,y expr={10^(\thisrow{L})}] {A L\\208.5 -4.84\\216 -5.02\\222 -5.15\\228 -5.28\\232 -5.36\\};
\addplot[sline] table[row sep=\\,x=A,y expr={10^(\thisrow{L})}] {A L\\232 -5.36\\234 -5.45\\236 -5.58\\238 -5.72\\};
\addplot[pbpt] table[x=A,y expr={10^(\thisrow{L})},y error plus=ep,y error minus=em] {\tabPb};
\addplot[bpts] table[x=A,y expr={10^(\thisrow{L})},y error plus=ep,y error minus=em] {\tabBl};
\node[plbl] at (rel axis cs:0.96,0.89) {b)\ T\textsubscript{9f}\enspace=\enspace0.7};
\end{axis}

\begin{axis}[ymode=log, mygrid, at={(576pt,462.7pt)}]
\addplot[gline] table[x=A,y expr={10^(\thisrow{L})}] {\tabGc};
\addplot[rline] table[x=A,y expr={10^(\thisrow{L})}] {\tabRc};
\addplot[dline] table[row sep=\\,x=A,y expr={10^(\thisrow{L})}] {A L\\209 -4.87\\216 -4.98\\223 -5.13\\229 -5.30\\233 -5.35\\};
\addplot[sline] table[row sep=\\,x=A,y expr={10^(\thisrow{L})}] {A L\\233 -5.35\\236 -5.50\\238.5 -5.66\\};
\addplot[pbpt] table[x=A,y expr={10^(\thisrow{L})},y error plus=ep,y error minus=em] {\tabPb};
\addplot[bpts] table[x=A,y expr={10^(\thisrow{L})},y error plus=ep,y error minus=em] {\tabBl};
\node[plbl] at (rel axis cs:0.96,0.89) {c)\ T\textsubscript{9f}\enspace=\enspace0.8};
\end{axis}

% ===== row 2 =====
\begin{axis}[ymode=log, mygrid, myleft, at={(74pt,260.4pt)}]
\addplot[gline] table[x=A,y expr={10^(\thisrow{L})}] {\tabGd};
\addplot[rline] table[x=A,y expr={10^(\thisrow{L})}] {\tabRd};
\addplot[dline] table[row sep=\\,x=A,y expr={10^(\thisrow{L})}] {A L\\209 -5.07\\216 -5.21\\223 -5.30\\230 -5.36\\};
\addplot[sline] table[row sep=\\,x=A,y expr={10^(\thisrow{L})}] {A L\\230 -5.36\\232 -5.40\\234 -5.48\\236 -5.58\\238 -5.72\\};
\addplot[pbpt] table[x=A,y expr={10^(\thisrow{L})},y error plus=ep,y error minus=em] {\tabPb};
\addplot[bpts] table[x=A,y expr={10^(\thisrow{L})},y error plus=ep,y error minus=em] {\tabBl};
\node[plbl] at (rel axis cs:0.96,0.89) {d)\ T\textsubscript{9f}\enspace=\enspace0.9};
\end{axis}

\begin{axis}[ymode=log, mygrid, at={(325pt,260.4pt)}]
\addplot[gline] table[x=A,y expr={10^(\thisrow{L})}] {\tabGe};
\addplot[rline] table[x=A,y expr={10^(\thisrow{L})}] {\tabRe};
\addplot[dline] table[row sep=\\,x=A,y expr={10^(\thisrow{L})}] {A L\\209 -5.04\\216 -5.15\\223 -5.27\\230 -5.34\\};
\addplot[sline] table[row sep=\\,x=A,y expr={10^(\thisrow{L})}] {A L\\230 -5.34\\233 -5.42\\236 -5.56\\238 -5.70\\};
\addplot[pbpt] table[x=A,y expr={10^(\thisrow{L})},y error plus=ep,y error minus=em] {\tabPb};
\addplot[bpts] table[x=A,y expr={10^(\thisrow{L})},y error plus=ep,y error minus=em] {\tabBl};
\node[plbl] at (rel axis cs:0.96,0.89) {e)\ T\textsubscript{9f}\enspace=\enspace1.0};
\end{axis}

\begin{axis}[ymode=log, mygrid, at={(576pt,260.4pt)}]
\addplot[gline] table[x=A,y expr={10^(\thisrow{L})}] {\tabGf};
\addplot[rline] table[x=A,y expr={10^(\thisrow{L})}] {\tabRf};
\addplot[dline] table[row sep=\\,x=A,y expr={10^(\thisrow{L})}] {A L\\209.5 -5.12\\216 -5.22\\223 -5.33\\230 -5.42\\};
\addplot[sline] table[row sep=\\,x=A,y expr={10^(\thisrow{L})}] {A L\\230 -5.42\\233 -5.50\\236 -5.65\\238.5 -5.81\\};
\addplot[pbpt] table[x=A,y expr={10^(\thisrow{L})},y error plus=ep,y error minus=em] {\tabPb};
\addplot[bpts] table[x=A,y expr={10^(\thisrow{L})},y error plus=ep,y error minus=em] {\tabBl};
\node[plbl] at (rel axis cs:0.96,0.89) {f)\ T\textsubscript{9f}\enspace=\enspace1.1};
\end{axis}

% ===== row 3 =====
\begin{axis}[ymode=log, mygrid, myleft, mybottom, at={(74pt,58.1pt)}]
\addplot[gline] table[x=A,y expr={10^(\thisrow{L})}] {\tabGg};
\addplot[rline] table[x=A,y expr={10^(\thisrow{L})}] {\tabRg};
\addplot[dline] table[row sep=\\,x=A,y expr={10^(\thisrow{L})}] {A L\\209 -5.32\\216 -5.46\\223 -5.55\\230 -5.66\\};
\addplot[sline] table[row sep=\\,x=A,y expr={10^(\thisrow{L})}] {A L\\230 -5.66\\233 -5.78\\236 -5.96\\238.3 -6.15\\};
\addplot[pbpt] table[x=A,y expr={10^(\thisrow{L})},y error plus=ep,y error minus=em] {\tabPb};
\addplot[bpts] table[x=A,y expr={10^(\thisrow{L})},y error plus=ep,y error minus=em] {\tabBl};
\node[plbl] at (rel axis cs:0.96,0.89) {g)\ T\textsubscript{9f}\enspace=\enspace1.2};
\end{axis}

\begin{axis}[ymode=log, mygrid, mybottom, at={(325pt,58.1pt)}]
\addplot[gline] table[x=A,y expr={10^(\thisrow{L})}] {\tabGh};
\addplot[rline] table[x=A,y expr={10^(\thisrow{L})}] {\tabRh};
\addplot[dline] table[row sep=\\,x=A,y expr={10^(\thisrow{L})}] {A L\\209 -5.51\\216 -5.70\\223 -5.88\\230 -6.06\\232.5 -6.15\\};
\addplot[sline] table[row sep=\\,x=A,y expr={10^(\thisrow{L})}] {A L\\232.5 -6.15\\235 -6.35\\238 -6.64\\};
\addplot[pbpt] table[x=A,y expr={10^(\thisrow{L})},y error plus=ep,y error minus=em] {\tabPb};
\addplot[bpts] table[x=A,y expr={10^(\thisrow{L})},y error plus=ep,y error minus=em] {\tabBl};
\node[plbl] at (rel axis cs:0.96,0.89) {h)\ T\textsubscript{9f}\enspace=\enspace1.3};
\end{axis}

\begin{axis}[ymode=log, mygrid, mybottom, at={(576pt,58.1pt)}]
\addplot[gline] table[x=A,y expr={10^(\thisrow{L})}] {\tabGi};
\addplot[rline] table[x=A,y expr={10^(\thisrow{L})}] {\tabRi};
\addplot[dline] table[row sep=\\,x=A,y expr={10^(\thisrow{L})}] {A L\\209 -5.79\\216 -5.96\\222 -6.12\\228 -6.26\\233 -6.34\\};
\addplot[sline] table[row sep=\\,x=A,y expr={10^(\thisrow{L})}] {A L\\233 -6.34\\236 -6.62\\239 -6.98\\};
\addplot[pbpt] table[x=A,y expr={0.72*10^(\thisrow{L})},y error plus=ep,y error minus=em] {\tabPb};
\addplot[bpts] table[x=A,y expr={0.72*10^(\thisrow{L})},y error plus=ep,y error minus=em] {\tabBl};
\node[plbl] at (rel axis cs:0.96,0.89) {i)\enspace T\textsubscript{9f}\enspace=\enspace1.4};
\end{axis}
\end{tikzpicture}
\end{document}
